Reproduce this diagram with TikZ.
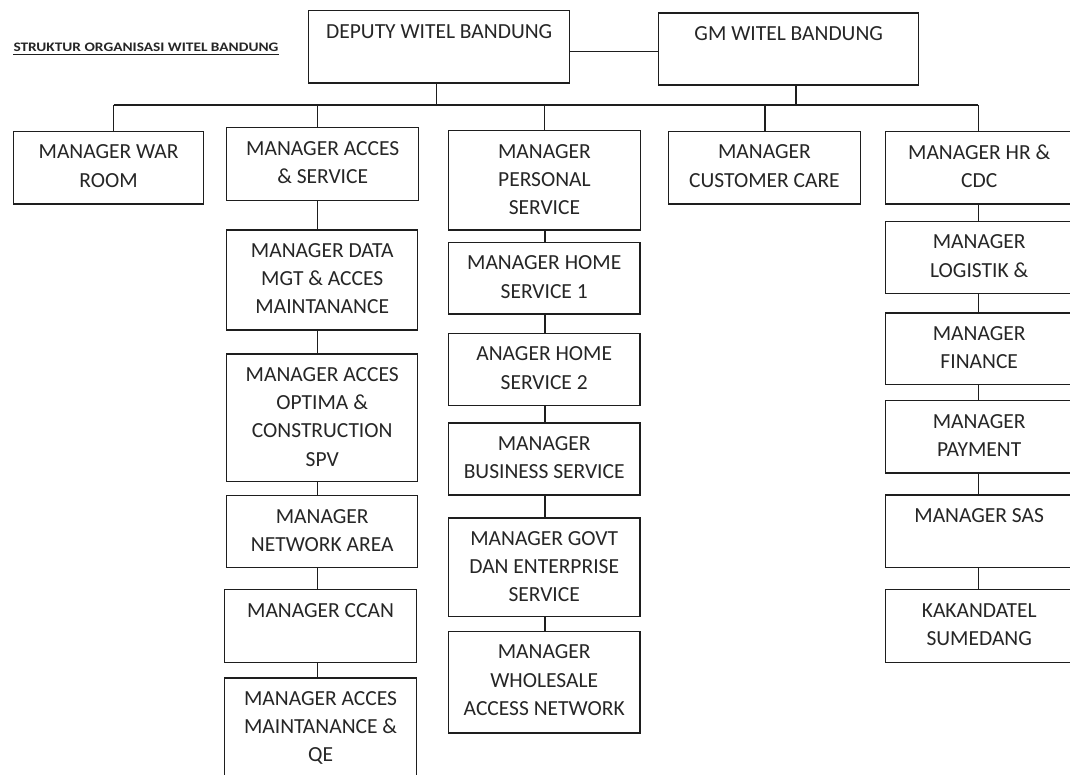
\documentclass[tikz,border=0pt]{standalone}
\usepackage{fontspec}
\setmainfont{Carlito}
\definecolor{linec}{HTML}{1E1E1E}
\definecolor{textc}{HTML}{262626}
\tikzset{
  orgbox/.style={draw=linec, line width=1.4pt, anchor=north west, inner sep=0pt, fill=white},
  orgtext/.style={text=textc, inner sep=0pt, align=center, font=\fontsize{21.5}{28.2}\selectfont},
  link/.style={draw=linec, line width=1.4pt},
}
% box at top-left (x,y) with width w and height h; the label sits near the top edge
\newcommand{\orgbox}[6]{%
  \node[orgbox, minimum width=#4pt, minimum height=#5pt] (#1) at (#2,#3) {};
  \node[orgtext, anchor=north] (#1-t) at ([yshift=-14pt]#1.north) {#6};
}
\begin{document}
\begin{tikzpicture}[x=1pt, y=-1pt]
\useasboundingbox[fill=white] (0,0) rectangle (1070,774);

% heading
\node[inner sep=0pt, anchor=base west, text=textc, font=\fontsize{13}{16}\selectfont\bfseries] (title) at (13.3,51.7) {\scalebox{1.18}[1]{STRUKTUR ORGANISASI WITEL BANDUNG}};
\draw[draw=linec, line width=1.2pt] ([yshift=-2.7pt]title.base west) -- ([yshift=-2.7pt]title.base east);

% top level
\orgbox{dep}{308}{10}{261}{72.3}{DEPUTY WITEL BANDUNG}
\orgbox{gm}{658}{12.3}{260}{72}{GM WITEL BANDUNG}

% first level
\orgbox{war}{12.7}{130.7}{190.3}{72.6}{MANAGER WAR\\ROOM}
\orgbox{acc}{226}{127}{192}{73}{MANAGER ACCES\\\& SERVICE}
\orgbox{per}{448}{130}{191.5}{99.3}{MANAGER\\PERSONAL\\SERVICE}
\orgbox{cc}{668}{130.7}{191.5}{72.6}{MANAGER\\CUSTOMER CARE}
\orgbox{hr}{885}{130.7}{187}{72.6}{MANAGER HR \&\\CDC}

% access & service column
\orgbox{data}{226}{229.3}{191}{100}{MANAGER DATA\\MGT \& ACCES\\MAINTANANCE}
\orgbox{opt}{226}{353.3}{191}{127.4}{MANAGER ACCES\\OPTIMA \&\\CONSTRUCTION\\SPV}
\orgbox{net}{226}{495}{191}{71.7}{MANAGER\\NETWORK AREA}
\orgbox{ccan}{224}{589}{191.7}{72.7}{MANAGER CCAN}
\orgbox{qe}{224}{677.3}{191.7}{130}{MANAGER ACCES\\MAINTANANCE \&\\QE}

% personal service column
\orgbox{h1}{447.7}{241.7}{191.6}{71.6}{MANAGER HOME\\SERVICE 1}
\orgbox{h2}{447.7}{332.7}{191.6}{72.3}{ANAGER HOME\\SERVICE 2}
\orgbox{bus}{447.7}{422.3}{191.6}{72}{MANAGER\\BUSINESS SERVICE}
\orgbox{govt}{447.7}{517.3}{191.6}{98.4}{MANAGER GOVT\\DAN ENTERPRISE\\SERVICE}
\orgbox{whole}{447.7}{630.7}{191.6}{101.6}{MANAGER\\WHOLESALE\\ACCESS NETWORK}

% HR column
\orgbox{log}{885}{220.7}{187}{72}{MANAGER\\LOGISTIK \&}
\orgbox{fin}{885}{312.3}{187}{71.7}{MANAGER\\FINANCE}
\orgbox{pay}{885}{400}{187}{72.3}{MANAGER\\PAYMENT}
\orgbox{sas}{885}{494.3}{187}{72.4}{MANAGER SAS}
\orgbox{kak}{885}{589}{187}{72.7}{KAKANDATEL\\SUMEDANG}

% junction points on the horizontal bus
\coordinate (b-war) at (113.6,105);
\coordinate (b-acc) at (317.3,105);
\coordinate (b-dep) at (436.6,105);
\coordinate (b-per) at (544.5,105);
\coordinate (b-cc)  at (765,105);
\coordinate (b-gm)  at (796,105);
\coordinate (b-hr)  at (978.3,105);
\coordinate (j-top) at (0,51.7);
\coordinate (col-l) at (317.3,0);
\coordinate (col-m) at (545,0);
\coordinate (col-r) at (978.3,0);

% deputy -- gm
\draw[link] (dep.east |- j-top) -- (gm.west |- j-top);
% bus and drops
\draw[link] (b-war) -- (b-hr);
\draw[link] (b-dep |- dep.south) -- (b-dep);
\draw[link] (b-gm |- gm.south) -- (b-gm);
\draw[link] (b-war) -- (b-war |- war.north);
\draw[link] (b-acc) -- (b-acc |- acc.north);
\draw[link] (b-per) -- (b-per |- per.north);
\draw[link] (b-cc) -- (b-cc |- cc.north);
\draw[link] (b-hr) -- (b-hr |- hr.north);
% access & service column
\draw[link] (col-l |- acc.south) -- (col-l |- data.north);
\draw[link] (col-l |- data.south) -- (col-l |- opt.north);
\draw[link] (col-l |- opt.south) -- (col-l |- net.north);
\draw[link] (col-l |- net.south) -- (col-l |- ccan.north);
\draw[link] (col-l |- ccan.south) -- (col-l |- qe.north);
% personal service column
\draw[link] (col-m |- per.south) -- (col-m |- h1.north);
\draw[link] (col-m |- h1.south) -- (col-m |- h2.north);
\draw[link] (col-m |- h2.south) -- (col-m |- bus.north);
\draw[link] (col-m |- bus.south) -- (col-m |- govt.north);
\draw[link] (col-m |- govt.south) -- (col-m |- whole.north);
% HR column
\draw[link] (col-r |- hr.south) -- (col-r |- log.north);
\draw[link] (col-r |- log.south) -- (col-r |- fin.north);
\draw[link] (col-r |- fin.south) -- (col-r |- pay.north);
\draw[link] (col-r |- pay.south) -- (col-r |- sas.north);
\draw[link] (col-r |- sas.south) -- (col-r |- kak.north);
\end{tikzpicture}
\end{document}
